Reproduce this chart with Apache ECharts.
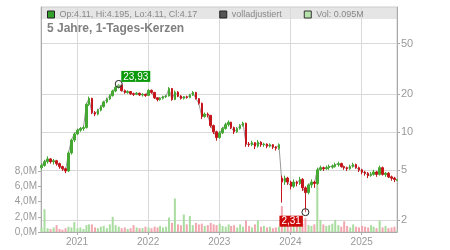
<!DOCTYPE html>
<html>
<head>
<meta charset="utf-8">
<script src="https://cdn.jsdelivr.net/npm/echarts@6/dist/echarts.min.js"></script>
<style>
html, body { margin: 0; padding: 0; background: #fff; }
#chart { width: 450px; height: 250px; }
</style>
</head>
<body>
<div id="chart"></div>
<script>
// year gridlines / labels
var yearTicks = ['2021-01-01', '2022-01-01', '2023-01-01', '2024-01-01', '2025-01-01'];
var priceTicks = [2, 5, 10, 20, 50];
var volTicks = [0, 2, 4, 6, 8];

// half-month candles, [open, close, low, high]
var candles = [
    [5.2, 5.4, 5.0, 5.6], [5.4, 5.8, 5.3, 6.0], [5.8, 6.1, 5.6, 6.4], [6.1, 5.8, 5.6, 6.2], [5.8, 5.9, 5.5, 6.1],
    [5.9, 5.6, 5.4, 6.0], [5.6, 5.3, 5.1, 5.7], [5.3, 5.1, 4.9, 5.4], [5.1, 4.9, 4.7, 5.2], [4.9, 6.8, 4.8, 7.0],
    [6.8, 8.6, 6.6, 8.8], [8.6, 9.6, 8.3, 9.9], [9.6, 10.3, 9.4, 10.6], [10.3, 10.6, 10.0, 10.9], [10.6, 10.8, 10.2, 11.2],
    [10.8, 16.5, 10.6, 17.0], [16.5, 18.4, 16.0, 19.0], [18.4, 14.2, 13.8, 18.6], [14.2, 13.8, 13.3, 14.6], [13.8, 14.8, 13.5, 15.2],
    [14.8, 15.8, 14.5, 16.2], [15.8, 17.2, 15.5, 17.6], [17.2, 18.2, 16.8, 18.6], [18.2, 19.3, 17.8, 19.8], [19.3, 21.0, 19.0, 21.5],
    [21.0, 22.5, 20.6, 23.0], [22.5, 23.4, 22.0, 23.93], [23.4, 21.2, 20.8, 23.6], [21.2, 20.5, 20.0, 21.6], [20.5, 20.8, 20.0, 21.3],
    [20.8, 20.0, 19.6, 21.0], [20.0, 19.8, 19.2, 20.4], [19.8, 20.2, 19.5, 20.6], [20.2, 19.6, 19.2, 20.4], [19.6, 19.8, 19.0, 20.2],
    [19.8, 19.4, 18.9, 20.0], [19.4, 21.3, 19.2, 21.8], [21.3, 20.5, 20.0, 21.6], [20.5, 18.6, 18.2, 20.7], [18.6, 18.0, 17.4, 18.8],
    [18.0, 18.4, 17.6, 18.8], [18.4, 18.9, 18.0, 19.3], [18.9, 19.2, 18.5, 19.6], [19.2, 22.0, 19.0, 22.6], [22.0, 18.0, 17.6, 22.2],
    [18.0, 20.6, 17.8, 21.2], [20.6, 19.2, 18.8, 21.0], [19.2, 18.4, 18.0, 19.5], [18.4, 18.9, 18.0, 19.2], [18.9, 18.7, 18.3, 19.3],
    [18.7, 19.5, 18.4, 20.0], [19.5, 20.5, 19.2, 21.0], [20.5, 18.3, 18.0, 20.7], [18.3, 16.8, 16.4, 18.5], [16.8, 13.2, 12.6, 17.0],
    [13.2, 13.8, 12.9, 14.2], [13.8, 13.5, 13.0, 14.2], [13.5, 11.2, 10.8, 13.6], [11.2, 10.0, 9.6, 11.4], [10.0, 9.0, 8.5, 10.2],
    [9.0, 9.8, 8.8, 10.1], [9.8, 10.6, 9.6, 10.9], [10.6, 11.4, 10.4, 11.8], [11.4, 11.9, 11.0, 12.3], [11.9, 10.8, 10.5, 12.0],
    [10.8, 10.0, 9.6, 11.0], [10.0, 10.6, 9.8, 10.9], [10.6, 11.2, 10.4, 11.5], [11.2, 11.7, 11.0, 12.0], [11.7, 8.0, 7.6, 11.8],
    [8.0, 7.9, 7.6, 8.3], [7.9, 8.2, 7.7, 8.5], [8.2, 7.7, 7.3, 8.3], [7.7, 8.3, 7.5, 8.6], [8.3, 7.9, 7.6, 8.4],
    [7.9, 8.0, 7.6, 8.2], [8.0, 7.7, 7.4, 8.1], [7.7, 7.9, 7.5, 8.1], [7.9, 7.6, 7.3, 8.0], [7.6, 7.4, 7.1, 7.7],
    [7.4, 7.9, 7.2, 8.1], [4.3, 4.0, 2.75, 4.5], [4.0, 4.3, 3.8, 4.5], [4.3, 4.0, 3.8, 4.4], [4.0, 3.7, 3.5, 4.1],
    [3.7, 4.0, 3.6, 4.2], [4.0, 3.9, 3.7, 4.1], [3.9, 4.2, 3.8, 4.4], [4.2, 3.6, 3.4, 4.3], [3.6, 3.3, 2.31, 3.7],
    [3.3, 3.8, 3.2, 3.9], [3.8, 4.0, 3.6, 4.2], [4.0, 3.9, 3.6, 4.1], [3.9, 5.0, 3.8, 5.2], [5.0, 5.2, 4.9, 5.4],
    [5.2, 5.1, 4.9, 5.3], [5.1, 5.2, 5.0, 5.4], [5.2, 5.3, 5.0, 5.5], [5.25, 5.35, 5.1, 5.5], [5.3, 5.5, 5.2, 5.7],
    [5.5, 5.6, 5.3, 5.8], [5.6, 5.3, 5.2, 5.7], [5.3, 5.2, 5.0, 5.4], [5.2, 5.1, 4.9, 5.3], [5.1, 5.3, 5.0, 5.5],
    [5.3, 5.5, 5.2, 5.7], [5.5, 5.2, 5.1, 5.6], [5.2, 5.0, 4.8, 5.3], [5.0, 4.8, 4.6, 5.1], [4.8, 4.7, 4.5, 4.9],
    [4.7, 4.5, 4.3, 4.8], [4.5, 4.6, 4.4, 4.8], [4.6, 4.8, 4.5, 5.0], [4.8, 4.6, 4.4, 4.9], [4.6, 5.2, 4.5, 5.4],
    [5.2, 4.6, 4.5, 5.3], [4.6, 4.7, 4.4, 4.8], [4.7, 4.4, 4.3, 4.8], [4.4, 4.3, 4.1, 4.5], [4.3, 4.2, 4.0, 4.4],
    [4.11, 4.17, 4.11, 4.195]
];

// volume in millions
var volumes = [
    0.6, 3.0, 0.5, 0.4, 0.6, 0.9, 0.4, 0.3, 0.5, 0.7,
    0.6, 1.3, 0.5, 0.6, 0.4, 0.9, 1.0, 1.0, 0.6, 0.5,
    0.7, 0.8, 0.5, 1.0, 2.0, 0.9, 0.7, 0.5, 0.6, 0.4,
    0.5, 0.9, 0.6, 0.5, 0.5, 0.7, 0.6, 0.5, 0.7, 0.6,
    0.8, 0.6, 0.7, 1.9, 1.2, 4.4, 1.0, 0.9, 2.3, 1.0,
    2.1, 0.9, 1.2, 1.0, 1.1, 0.8, 0.9, 1.2, 1.0, 0.9,
    1.1, 0.8, 0.7, 1.0, 0.8, 0.9, 0.6, 1.0, 0.7, 1.5,
    0.8, 0.6, 1.0, 1.5, 0.7, 0.8, 0.6, 0.7, 0.5, 0.6,
    0.7, 3.4, 1.2, 0.9, 0.7, 1.0, 0.8, 0.9, 1.1, 1.8,
    0.9, 0.8, 1.0, 8.0, 1.6, 1.0, 0.8, 0.9, 1.1, 1.6,
    0.9, 0.7, 1.4, 0.8, 0.6, 1.0, 0.7, 0.6, 0.8, 0.7,
    0.6, 0.9, 0.7, 0.5, 1.5, 0.6, 0.8, 0.5, 0.6, 0.7,
    0.095
];

// dates: 3rd and 18th of each month from Jul 2020, last day 2025-06-30
var dates = [];
for (var i = 0; i < 120; i++) {
    var m = 6 + Math.floor(i / 2);
    var y = 2020 + Math.floor(m / 12);
    var mm = (m % 12) + 1;
    dates.push(y + '-' + (mm < 10 ? '0' + mm : mm) + '-' + (i % 2 ? '18' : '03'));
}
dates.push('2025-06-30');

var upColor = '#44a832', downColor = '#c4161c';
var volUp = '#a9dc9f', volDown = '#f2a6af';

var chartPage = function () {
    var self = this;
    self.chart = echarts.init(document.getElementById('chart'));

    self.fmt = function (v) {
        return v.toFixed(2).replace('.', ',');
    }
    self.ts = function (d) {
        return Date.parse(d);
    }

    self.build = function () {
        var candleData = [], closeData = [], volData = [];
        for (var i = 0; i < candles.length; i++) {
            var c = candles[i];
            var t = self.ts(dates[i]);
            candleData.push([t, c[0], c[1], c[2], c[3]]);
            closeData.push([t, c[1]]);
            volData.push({
                value: [t, volumes[i]],
                itemStyle: { color: c[1] >= c[0] ? volUp : volDown }
            });
        }
        var yearValues = yearTicks.map(self.ts);
        var last = candles[candles.length - 1];
        var legendText = {
            ohlc: 'Op:' + last[0] + ', Hi:' + last[3] + ', Lo:' + last[2] + ', Cl:' + last[1],
            adj: 'volladjustiert',
            vol: 'Vol: ' + volumes[volumes.length - 1].toFixed(3) + 'M'
        };

        var option = {
            animation: false,
            textStyle: { fontFamily: 'Liberation Sans, Arial, sans-serif' },
            title: {
                text: '5 Jahre, 1-Tages-Kerzen',
                left: 42, top: 18,
                textStyle: { fontSize: 12, fontWeight: 'bold', color: '#808080' }
            },
            legend: {
                left: 42, top: 5,
                itemWidth: 7, itemHeight: 7, itemGap: 22,
                selectedMode: false,
                textStyle: { fontSize: 9, color: '#888' },
                formatter: function (name) { return legendText[name]; },
                data: [
                    { name: 'ohlc', icon: 'rect', itemStyle: { color: '#33a02c', borderColor: '#222', borderWidth: 1 } },
                    { name: 'adj', icon: 'rect', itemStyle: { color: '#555', borderColor: '#222', borderWidth: 1 } },
                    { name: 'vol', icon: 'rect', itemStyle: { color: '#b5e2ab', borderColor: '#333', borderWidth: 1 } }
                ]
            },
            graphic: {
                elements: [{
                    type: 'rect', z: -1, silent: true,
                    shape: { x: 41, y: 7, width: 356, height: 12 },
                    style: { fill: '#e5e5e5' }
                }]
            },
            grid: { left: 41, right: 53, top: 7, bottom: 18, show: true, borderColor: '#ccc' },
            xAxis: {
                type: 'value',
                min: self.ts('2020-06-30'), max: self.ts('2025-07-01'),
                axisLine: { lineStyle: { color: '#aaa' } },
                axisTick: { customValues: yearValues, length: 3, lineStyle: { color: '#aaa' } },
                axisLabel: {
                    customValues: yearValues, color: '#999', fontSize: 10, margin: 5,
                    formatter: function (v) { return new Date(v).getFullYear(); }
                },
                splitLine: { show: true, lineStyle: { color: '#d9d9d9' } }
            },
            yAxis: [{
                type: 'log', logBase: 10, position: 'right',
                min: 1.61, max: 97.2,
                axisLine: { show: true, lineStyle: { color: '#aaa' } },
                axisTick: { show: true, customValues: priceTicks, length: 3, lineStyle: { color: '#aaa' } },
                axisLabel: { customValues: priceTicks, color: '#999', fontSize: 11, margin: 4 },
                splitLine: { show: true, lineStyle: { color: '#d9d9d9' } }
            }, {
                type: 'value', position: 'left',
                min: 0, max: 29.6,
                axisLine: { show: true, lineStyle: { color: '#aaa' } },
                axisTick: { show: true, customValues: volTicks, length: 3, lineStyle: { color: '#aaa' } },
                axisLabel: {
                    customValues: volTicks, color: '#999', fontSize: 10, margin: 4,
                    formatter: function (v) { return v.toFixed(1).replace('.', ',') + 'M'; }
                },
                splitLine: { show: false }
            }],
            series: [{
                name: 'vol', type: 'bar', yAxisIndex: 1,
                barWidth: 2, z: 1,
                data: volData
            }, {
                name: 'adj', type: 'line', yAxisIndex: 0,
                showSymbol: false, z: 2,
                lineStyle: { color: '#999', width: 1 },
                itemStyle: { color: '#555' },
                data: closeData
            }, {
                name: 'ohlc', type: 'candlestick', yAxisIndex: 0,
                barWidth: 2, z: 3,
                itemStyle: { color: upColor, color0: downColor, borderColor: upColor, borderColor0: downColor, borderWidth: 1 },
                data: candleData,
                markPoint: {
                    symbol: 'circle', symbolSize: 7,
                    itemStyle: { color: 'rgba(255,255,255,0.3)', borderColor: '#222', borderWidth: 1 },
                    label: {
                        color: '#fff', fontSize: 10, lineHeight: 10, padding: [1, 2, 0, 2],
                        formatter: function (p) { return self.fmt(p.value); }
                    },
                    data: [
                        { type: 'max', valueDim: 'highest', label: { position: [6.5, -9], backgroundColor: '#0b9a0b' } },
                        { type: 'min', valueDim: 'lowest', label: { position: [-22, 7.5], backgroundColor: '#cc0a0a' } }
                    ]
                }
            }]
        };
        self.chart.setOption(option);
    }
}

var page = new chartPage();
page.build();
</script>
</body>
</html>
